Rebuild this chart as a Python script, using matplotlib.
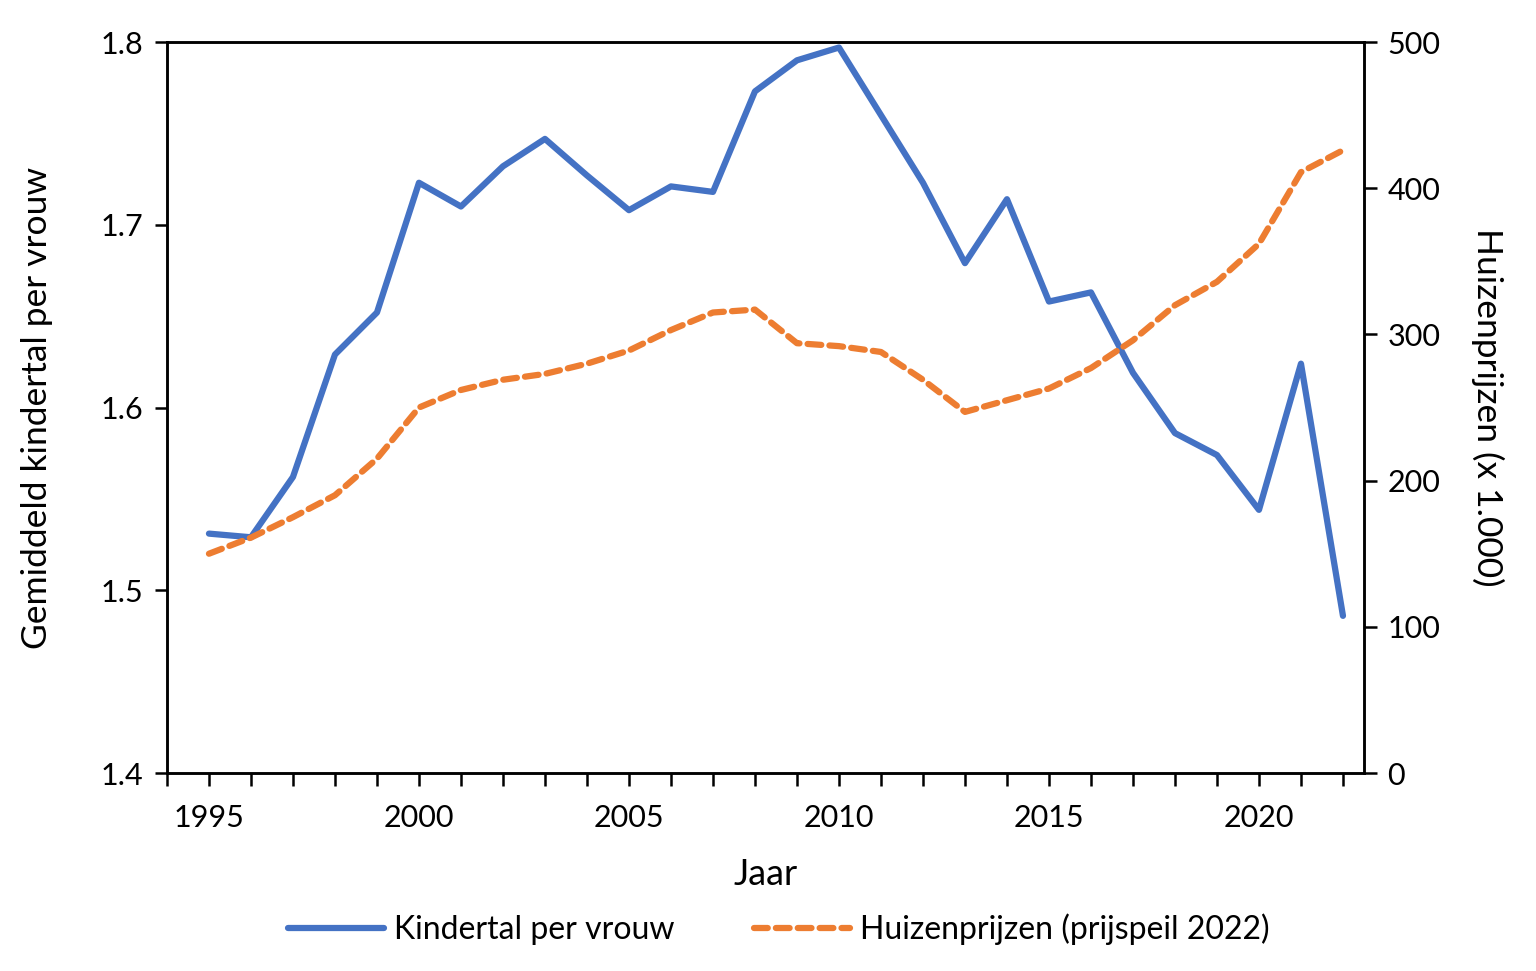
import matplotlib.pyplot as plt
from matplotlib.ticker import MultipleLocator, FixedLocator, FuncFormatter

plt.rcParams['font.family'] = ['Lato', 'DejaVu Sans']

jaren = list(range(1995, 2023))
kindertal = [1.531, 1.529, 1.562, 1.629, 1.652, 1.723, 1.710, 1.732, 1.747, 1.727,
             1.708, 1.721, 1.718, 1.773, 1.790, 1.797, 1.760, 1.723, 1.679, 1.714,
             1.658, 1.663, 1.619, 1.586, 1.574, 1.544, 1.624, 1.486]
huizenprijzen = [150, 161, 175, 190, 215, 250, 262, 269, 273, 280,
                 289, 303, 315, 317, 294, 292, 288, 269, 247, 255,
                 263, 277, 296, 320, 336, 362, 411, 426]

blauw = '#4472c4'
oranje = '#ed7d31'

fig = plt.figure(figsize=(15.36, 9.71), dpi=100)
ax = fig.add_axes([0.1087, 0.2039, 0.7793, 0.7528])
ax2 = ax.twinx()

l1, = ax.plot(jaren, kindertal, color=blauw, lw=4.5, solid_capstyle='round',
              solid_joinstyle='round', label='Kindertal per vrouw')
l2, = ax2.plot(jaren, huizenprijzen, color=oranje, lw=4.5, dashes=(2.2, 1.3),
               dash_capstyle='round', label='Huizenprijzen (prijspeil 2022)')

ax.set_xlim(1994, 2022.5)
ax.set_ylim(1.4, 1.8)
ax2.set_ylim(0, 500)
ax.yaxis.set_major_locator(MultipleLocator(0.1))
ax.yaxis.set_major_formatter(FuncFormatter(lambda v, p: f'{v:.1f}'))
ax2.yaxis.set_major_locator(MultipleLocator(100))
# tick op elk jaar, label om de 5 jaar
ax.xaxis.set_major_locator(FixedLocator(range(1994, 2023)))
ax.xaxis.set_major_formatter(FuncFormatter(
    lambda v, p: str(int(v)) if int(v) % 5 == 0 and 1995 <= v <= 2020 else ''))

for a in (ax, ax2):
    for s in a.spines.values():
        s.set_linewidth(1.8)
        s.set_color('black')

ax.tick_params(axis='x', length=9, width=1.8, pad=13, labelsize=22)
ax.tick_params(axis='y', length=9, width=1.8, labelsize=22, pad=8)
ax2.tick_params(axis='y', length=9, width=1.8, labelsize=22, pad=8)

ax.set_xlabel('Jaar', fontsize=26, labelpad=19)
ax.set_ylabel('Gemiddeld kindertal per vrouw', fontsize=25.5, labelpad=34)
ax2.set_ylabel('Huizenprijzen (x 1.000)', fontsize=25.5, rotation=270, labelpad=46)

fig.legend(handles=[l1, l2], loc='center', bbox_to_anchor=(0.507, 0.043), ncol=2,
           frameon=False, fontsize=23, handlelength=3.0, handletextpad=0.3,
           columnspacing=2.5)

fig.savefig('out.png', dpi=100)
